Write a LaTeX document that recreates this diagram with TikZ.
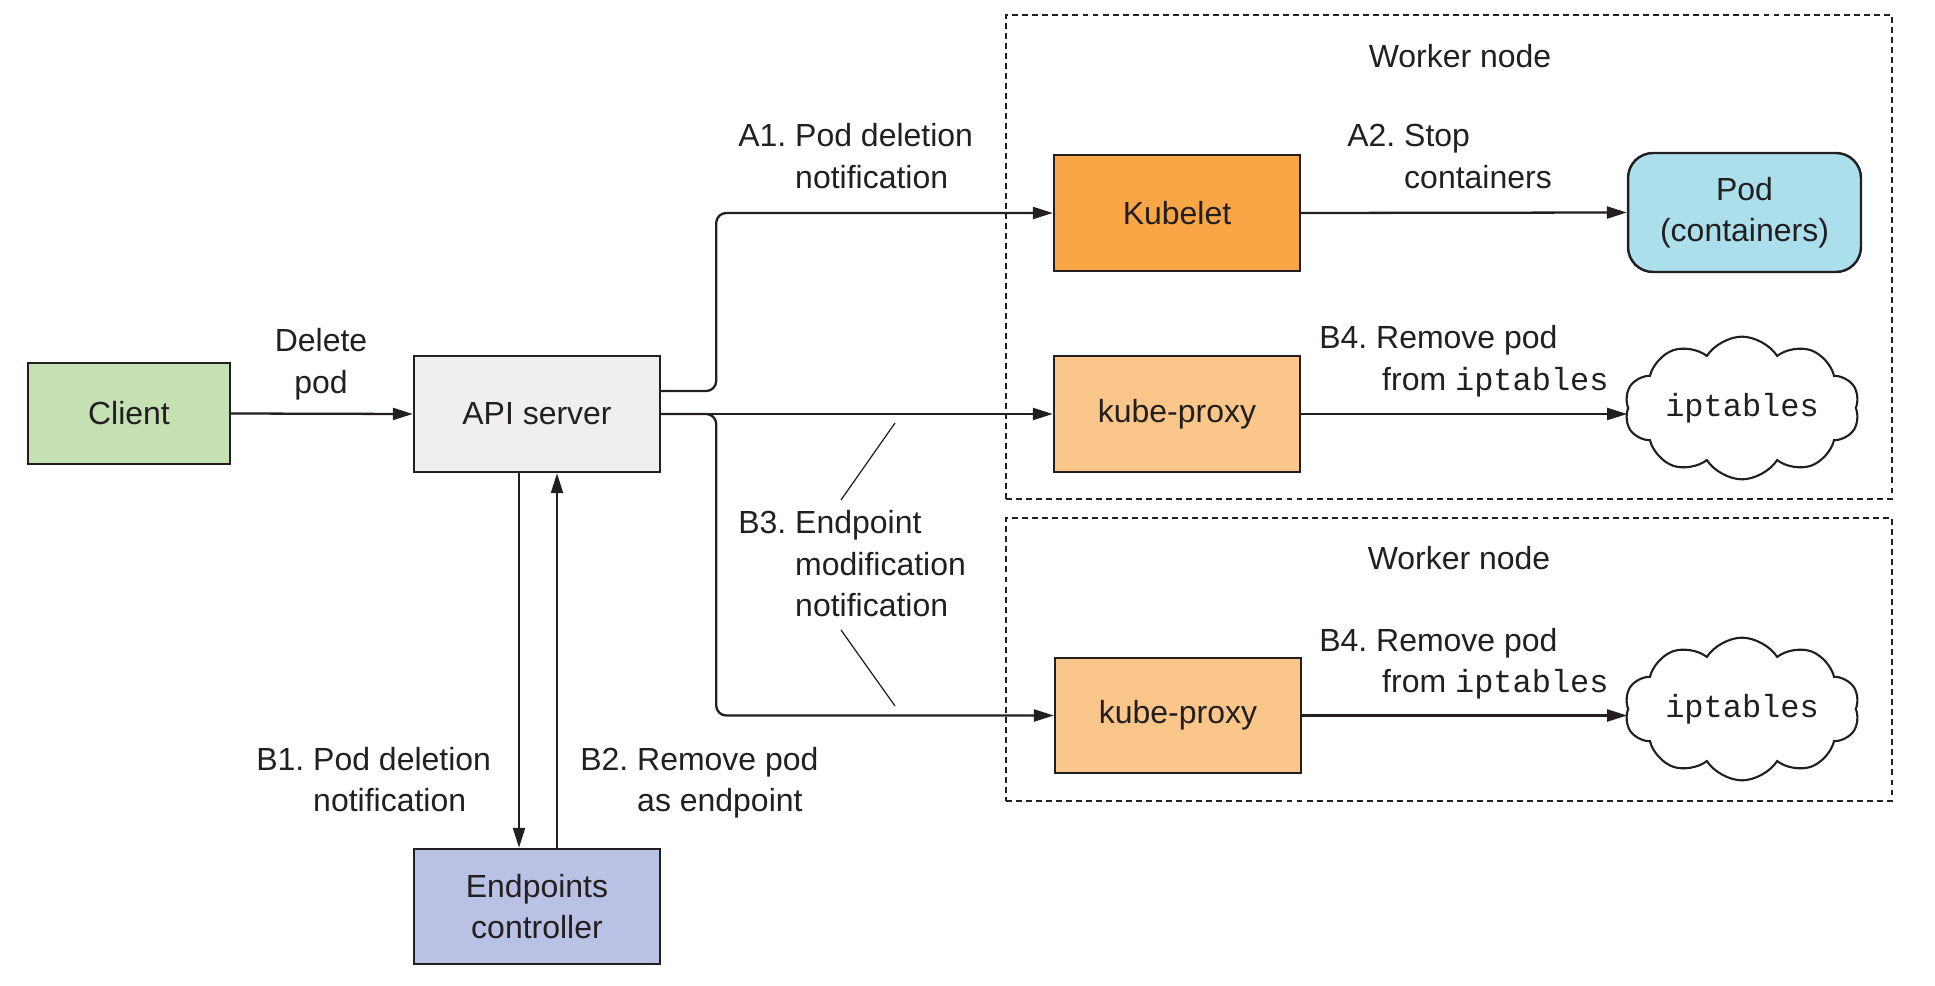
\documentclass[tikz,border=0pt]{standalone}
\usepackage{fontspec}
\setmainfont{Liberation Sans}
\setmonofont{Liberation Mono}
\usetikzlibrary{arrows.meta,shapes.symbols}
\definecolor{ink}{RGB}{35,31,32}
\definecolor{clientc}{RGB}{197,224,178}
\definecolor{apic}{RGB}{239,239,239}
\definecolor{epc}{RGB}{185,194,229}
\definecolor{kubeletc}{RGB}{249,166,70}
\definecolor{proxyc}{RGB}{250,198,138}
\definecolor{podc}{RGB}{171,223,236}
\newcommand\twoline[2]{\begin{tabular}[t]{@{}l@{}}#1\\#2\end{tabular}}
\begin{document}
\begin{tikzpicture}[x=0.02cm,y=-0.02cm,
  every node/.style={font=\fontsize{18.2}{23.5}\selectfont\frenchspacing, text=ink},
  box/.style={draw=ink, line width=1.4pt, minimum width=4.92cm, minimum height=2.32cm, inner sep=0pt, align=center},
  conn/.style={draw=ink, line width=1.3pt, -{Triangle[length=0.4cm,width=0.24cm]}},
  lbl/.style={anchor=base west, inner sep=0pt},
  worker/.style={draw=ink, line width=1.2pt, dash pattern=on 3.4pt off 2.3pt, inner sep=0pt},
  leader/.style={draw=ink, line width=0.7pt},
  iptcloud/.style={cloud, draw=ink, line width=1.2pt, cloud puffs=10, cloud puff arc=115, aspect=1.95, minimum width=4.7cm, minimum height=2cm, inner sep=0pt, font=\fontsize{18.2}{23.5}\selectfont\ttfamily}
]
\useasboundingbox (0,0) rectangle (1935,986);

% worker node frames
\node[worker, minimum width=17.72cm, minimum height=9.68cm] (w1) at (1449,257) {};
\node[worker, minimum width=17.72cm, minimum height=5.66cm] (w2) at (1449,659.5) {};
\node[anchor=base, inner sep=0pt] (w1l) at (1460,68) {Worker node};
\node[anchor=base, inner sep=0pt] (w2l) at (1459,570) {Worker node};

% boxes
\node[box, fill=clientc, minimum width=4.04cm, minimum height=2.02cm] (client) at (129,413.5) {Client};
\node[box, fill=apic] (api) at (537,414) {API server};
\node[box, fill=epc, minimum height=2.3cm] (ep) at (537,906.5) {Endpoints\\controller};
\node[box, fill=kubeletc] (kubelet) at (1177,213) {Kubelet};
\node[box, fill=proxyc] (proxyA) at (1177,414) {kube-proxy};
\node[box, fill=proxyc, minimum height=2.3cm] (proxyB) at (1178,715.5) {kube-proxy};
\node[box, fill=podc, rounded corners=0.5cm, minimum width=4.66cm, minimum height=2.38cm] (pod) at (1744.5,212.5) {Pod\\(containers)};
\node[iptcloud] (cloudA) at (1742,408) {iptables};
\node[iptcloud] (cloudB) at (1742,709) {iptables};

% connectors
\draw[conn] (client.east) -- (api.west);
\draw[conn] (api.east) -- (proxyA.west);
\draw[conn, rounded corners=0.2cm] ([yshift=0.46cm]api.east) -- ++(55,0) |- (kubelet.west);
\draw[conn, rounded corners=0.2cm] (api.east) -- ++(55,0) |- (proxyB.west);
\draw[conn] (kubelet.east) -- (pod.west);
\draw[conn] (proxyA.east) -- (proxyA.east -| cloudA.west);
\draw[conn] (proxyB.east) -- (proxyB.east -| cloudB.west);
\draw[conn] ([xshift=-0.36cm]api.south) -- ([xshift=-0.36cm]ep.north);
\draw[conn] ([xshift=0.4cm]ep.north) -- ([xshift=0.4cm]api.south);

% leader lines for B3
\coordinate (ldA1) at (895,423);
\coordinate (ldA2) at (841,500);
\coordinate (ldB1) at (841,630);
\coordinate (ldB2) at (895,706);
\draw[leader] (ldA1) -- (ldA2);
\draw[leader] (ldB1) -- (ldB2);

% labels
\node[anchor=base, inner sep=0pt] (lDel) at (321,352) {\begin{tabular}[t]{@{}c@{}}Delete\\pod\end{tabular}};
\node[lbl] (lA1) at (738,147) {\twoline{A1. Pod deletion}{\hphantom{A1. }notification}};
\node[lbl] (lA2) at (1347,147) {\twoline{A2. Stop}{\hphantom{A2. }containers}};
\node[lbl] (lB4a) at (1319,349) {\twoline{B4. Remove pod}{\hphantom{B4. }\hspace*{0.12cm}from \texttt{iptables}}};
\node[lbl] (lB4b) at (1319,651) {\twoline{B4. Remove pod}{\hphantom{B4. }\hspace*{0.12cm}from \texttt{iptables}}};
\node[lbl] (lB1) at (256,770) {\twoline{B1. Pod deletion}{\hphantom{B1. }notification}};
\node[lbl] (lB2) at (580,770) {\twoline{B2. Remove pod}{\hphantom{B2. }as endpoint}};
\node[lbl] (lB3) at (738,534) {\begin{tabular}[t]{@{}l@{}}B3. Endpoint\\\hphantom{B3. }modification\\\hphantom{B3. }notification\end{tabular}};
\end{tikzpicture}
\end{document}
